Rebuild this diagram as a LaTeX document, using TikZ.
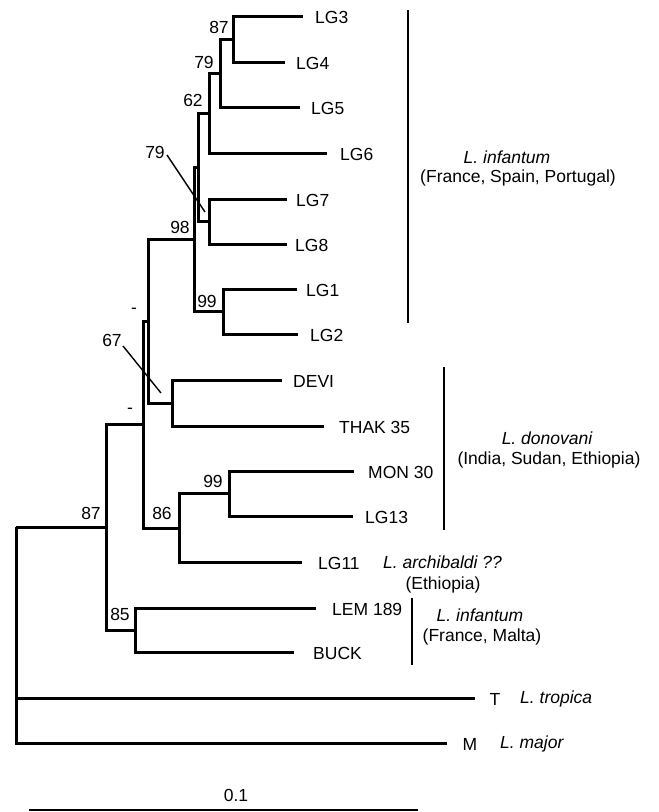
\documentclass[tikz,border=0pt]{standalone}
\usepackage{fontspec}
\setmainfont{Liberation Sans}
\begin{document}
\begin{tikzpicture}[x=1pt,y=-1pt,
  br/.style={line width=3pt,line join=miter,line cap=butt},
  lf/.style={anchor=west,inner sep=0pt,font=\fontsize{17.5}{20}\selectfont},
  bs/.style={inner sep=0pt,font=\fontsize{17.5}{20}\selectfont},
  it/.style={inner sep=0pt,font=\fontsize{17.5}{20}\selectfont\itshape},
  grp/.style={line width=1.8pt},
  lead/.style={line width=1.4pt}]
\fill[white] (0,0) rectangle (659,812);
\useasboundingbox (0,0) rectangle (659,812);
% branch ends
\coordinate (eLG3) at (303,16);
\coordinate (eLG4) at (285,62);
\coordinate (eLG5) at (300,107);
\coordinate (eLG6) at (327,153);
\coordinate (eLG7) at (287,199);
\coordinate (eLG8) at (287,244);
\coordinate (eLG1) at (297,289);
\coordinate (eLG2) at (298,334);
\coordinate (eDEVI) at (282,380);
\coordinate (eTHAK) at (324,426);
\coordinate (eMON) at (354,471);
\coordinate (eLG13) at (353,516);
\coordinate (eLG11) at (302,562);
\coordinate (eLEM) at (316,608);
\coordinate (eBUCK) at (294,652);
\coordinate (eT) at (475,698);
\coordinate (eM) at (447,743);
% internal nodes
\coordinate (n87a) at (233,39);
\coordinate (n79a) at (220,73);
\coordinate (n62) at (209,113);
\coordinate (n78) at (209,221.5);
\coordinate (n79b) at (198,167);
\coordinate (n99a) at (223,311.5);
\coordinate (n98) at (194,239);
\coordinate (n67) at (172,403);
\coordinate (nUp) at (148,321);
\coordinate (n99b) at (229,493.5);
\coordinate (n86) at (179,528);
\coordinate (nLo) at (143,424.5);
\coordinate (n85) at (135,630);
\coordinate (n87b) at (106,527);
\coordinate (root) at (16,527);
% tree
\draw[br] (n87a) |- (eLG3);
\draw[br] (n87a) |- (eLG4);
\draw[br] (n79a) |- (n87a);
\draw[br] (n79a) |- (eLG5);
\draw[br] (n62) |- (n79a);
\draw[br] (n62) |- (eLG6);
\draw[br] (n78) |- (eLG7);
\draw[br] (n78) |- (eLG8);
\draw[br] (n79b) |- (n62);
\draw[br] (n79b) |- (n78);
\draw[br] (n99a) |- (eLG1);
\draw[br] (n99a) |- (eLG2);
\draw[br] (n98) |- (n79b);
\draw[br] (n98) |- (n99a);
\draw[br] (n67) |- (eDEVI);
\draw[br] (n67) |- (eTHAK);
\draw[br] (nUp) |- (n98);
\draw[br] (nUp) |- (n67);
\draw[br] (n99b) |- (eMON);
\draw[br] (n99b) |- (eLG13);
\draw[br] (n86) |- (n99b);
\draw[br] (n86) |- (eLG11);
\draw[br] (nLo) |- (nUp);
\draw[br] (nLo) |- (n86);
\draw[br] (n85) |- (eLEM);
\draw[br] (n85) |- (eBUCK);
\draw[br] (n87b) |- (nLo);
\draw[br] (n87b) |- (n85);
\draw[br] (root) |- (n87b);
\draw[br] (root) |- (eT);
\draw[br] (root) |- (eM);
% leaf labels
\node[lf] (LG3) at (315,17) {LG3};
\node[lf] (LG4) at (296,63) {LG4};
\node[lf] (LG5) at (311,108) {LG5};
\node[lf] (LG6) at (340,154) {LG6};
\node[lf] (LG7) at (296,200) {LG7};
\node[lf] (LG8) at (295,245) {LG8};
\node[lf] (LG1) at (306,290) {LG1};
\node[lf] (LG2) at (310,335) {LG2};
\node[lf] (DEVI) at (293,381) {DEVI};
\node[lf] (THAK) at (339,427) {THAK 35};
\node[lf] (MON) at (368,472) {MON 30};
\node[lf] (LG13) at (365,517) {LG13};
\node[lf] (LG11) at (318,563) {LG11};
\node[lf] (LEM) at (332,609) {LEM 189};
\node[lf] (BUCK) at (313,653) {BUCK};
\node[bs] (T) at (495,699) {T};
\node[bs] (M) at (470,744) {M};
% bootstrap values
\node[bs] (b87a) at (219,27) {87};
\node[bs] (b79a) at (204,62) {79};
\node[bs] (b62) at (193,100) {62};
\node[bs] (b79b) at (155,152) {79};
\node[bs] (b98) at (180,227) {98};
\node[bs] (b99a) at (207,301) {99};
\node[bs] (bUp) at (134,311) {-};
\node[bs] (b67) at (112,340) {67};
\node[bs] (bLo) at (130,411) {-};
\node[bs] (b99b) at (213,481) {99};
\node[bs] (b86) at (162,513) {86};
\node[bs] (b87b) at (91,513) {87};
\node[bs] (b85) at (120,614) {85};
% leaders
\coordinate (l1s) at (167,155);
\coordinate (l1e) at (205,212);
\coordinate (l2s) at (123,346);
\coordinate (l2e) at (161,393);
\draw[lead] (l1s) -- (l1e);
\draw[lead] (l2s) -- (l2e);
% group bars
\coordinate (g1a) at (408,10);
\coordinate (g1b) at (408,323);
\coordinate (g2a) at (444,367);
\coordinate (g2b) at (444,530);
\coordinate (g3a) at (412,598);
\coordinate (g3b) at (412,665);
\draw[grp] (g1a) -- (g1b);
\draw[grp] (g2a) -- (g2b);
\draw[grp] (g3a) -- (g3b);
% group labels
\node[it] (sp1) at (507,157) {L. infantum};
\node[bs] (co1) at (518,178) {(France, Spain, Portugal)};
\node[it] (sp2) at (547,438) {L. donovani};
\node[bs] (co2) at (549,460) {(India, Sudan, Ethiopia)};
\node[it,anchor=west] (sp3) at (383,562) {L. archibaldi ??};
\node[bs] (co3) at (443,585) {(Ethiopia)};
\node[it] (sp4) at (480,615) {L. infantum};
\node[bs] (co4) at (482,637) {(France, Malta)};
\node[it,anchor=west] (sp5) at (520,699) {L. tropica};
\node[it,anchor=west] (sp6) at (500,744) {L. major};
% scale bar
\coordinate (sb1) at (29,810);
\coordinate (sb2) at (418,810);
\draw[line width=2.5pt] (sb1) -- (sb2);
\node[bs] (sbl) at (236,795) {0.1};
\end{tikzpicture}
\end{document}
